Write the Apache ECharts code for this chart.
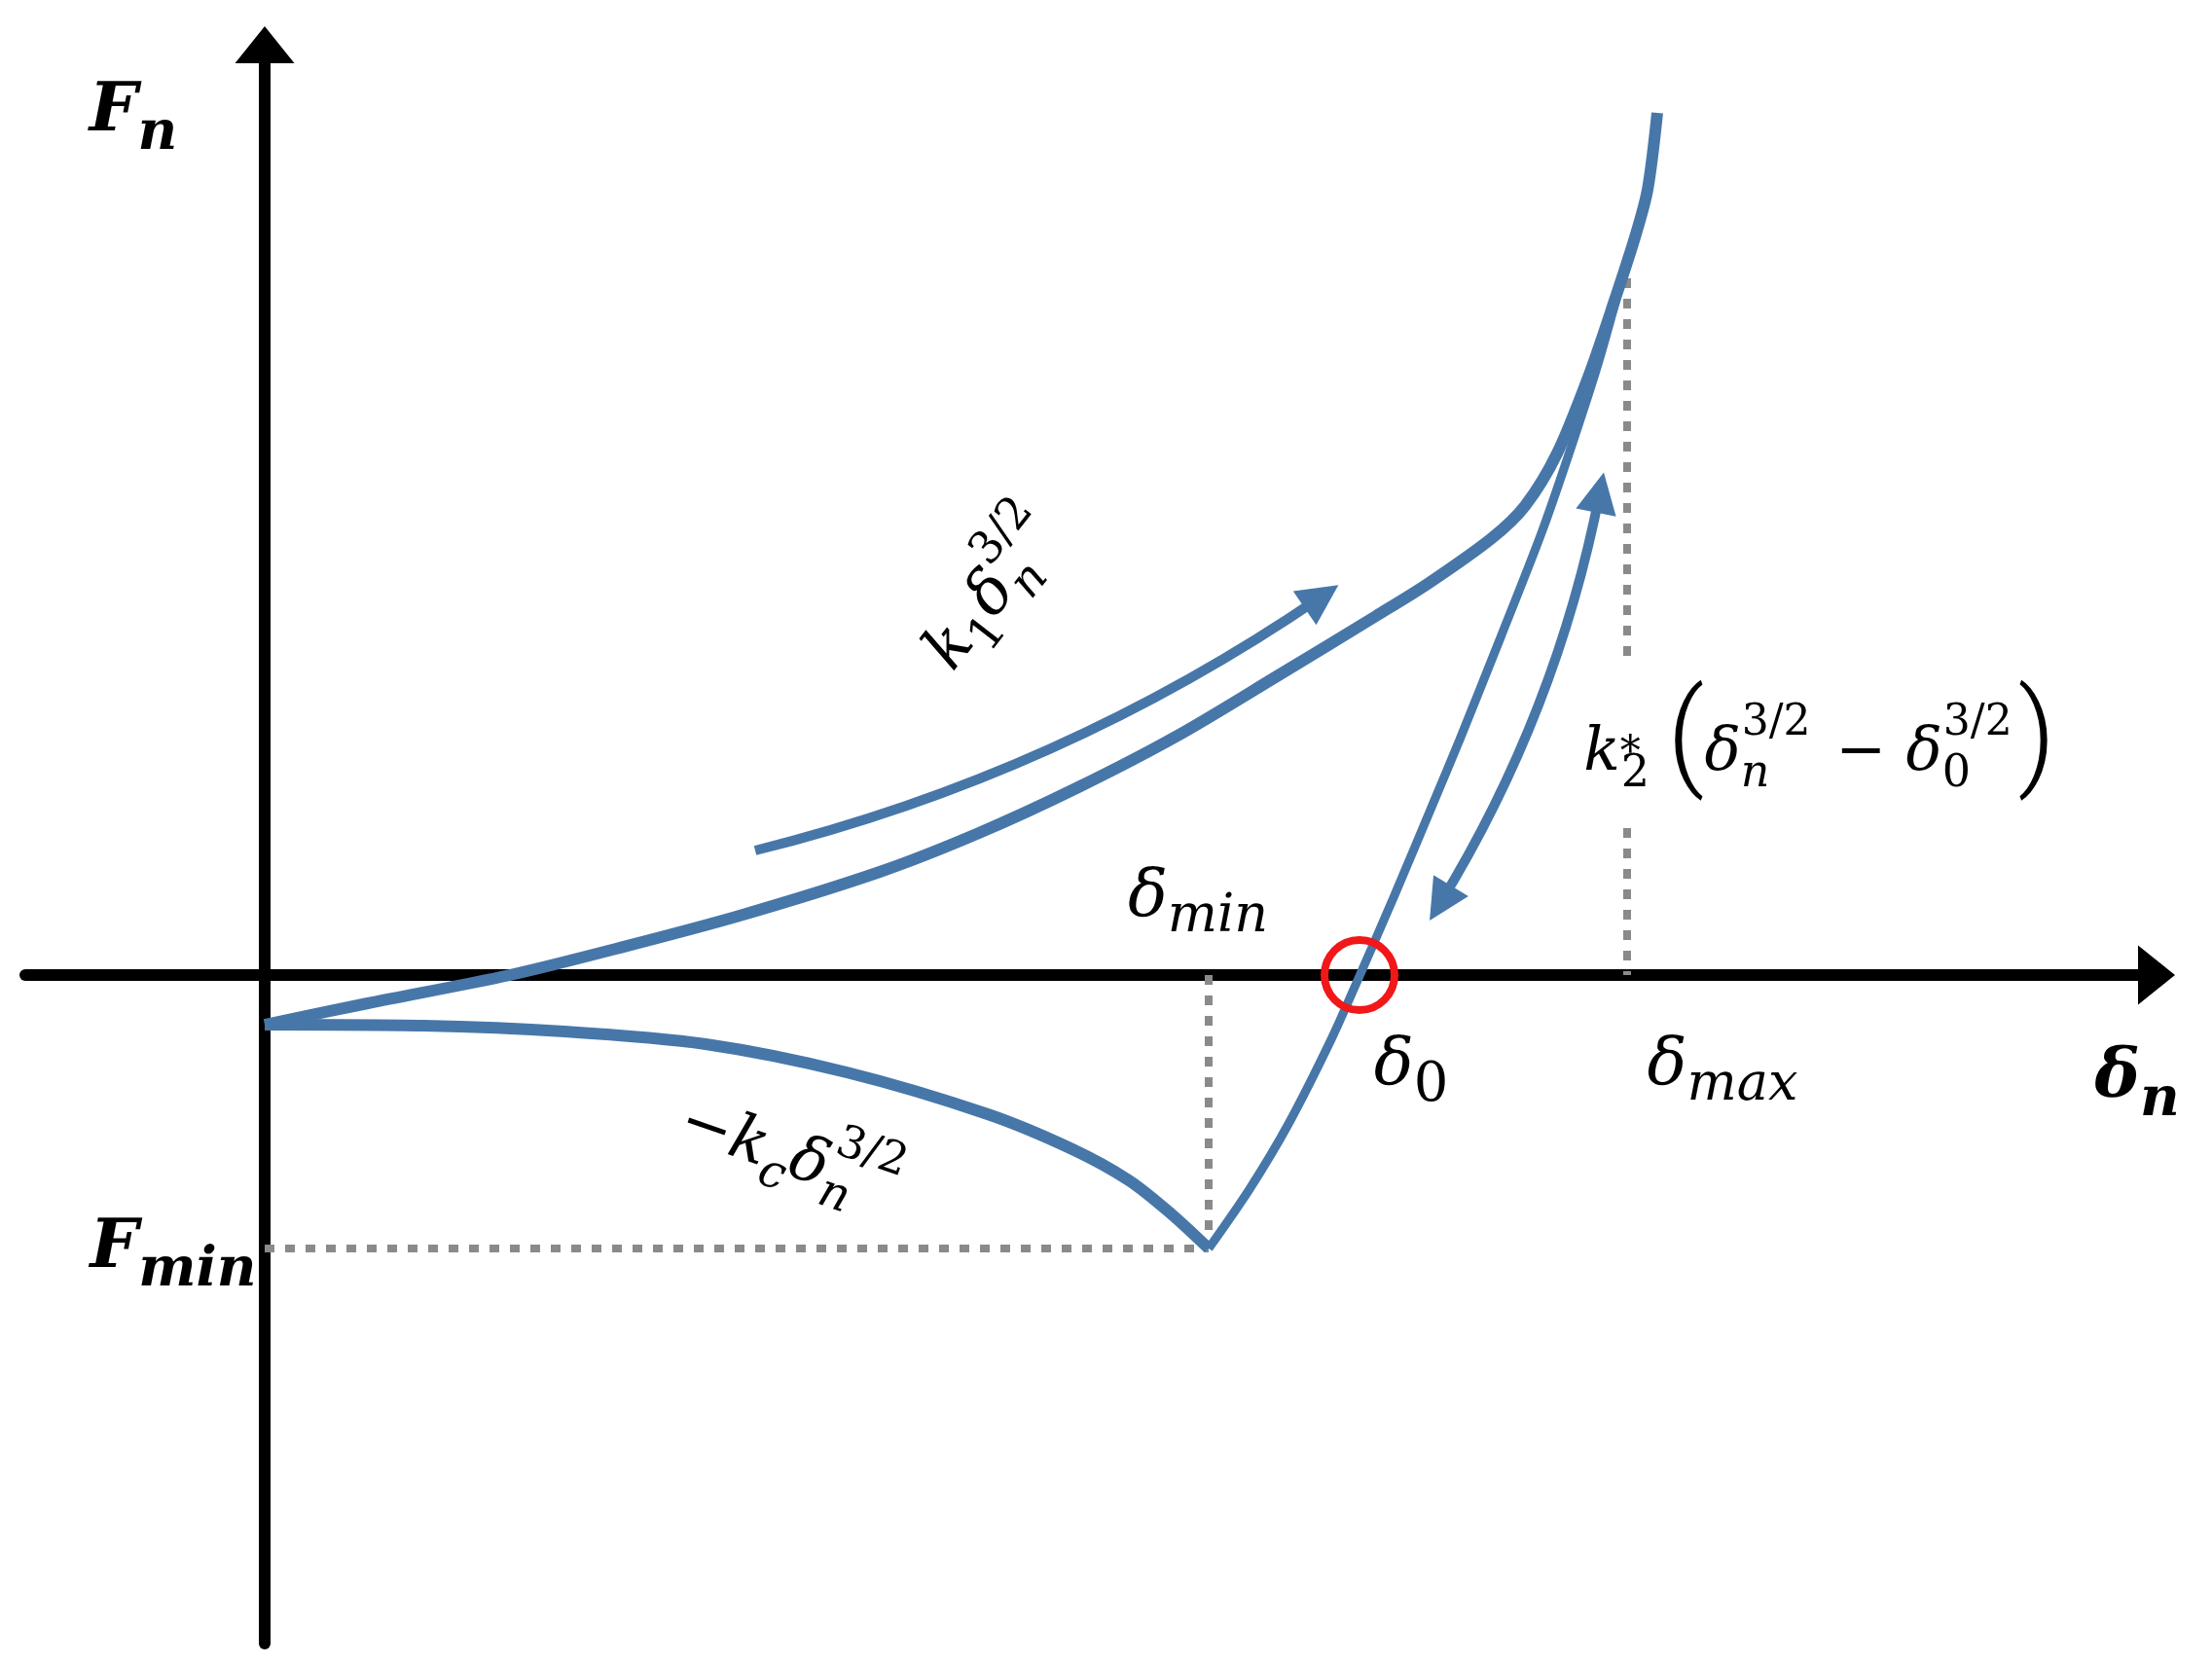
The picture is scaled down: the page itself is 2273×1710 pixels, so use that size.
<!DOCTYPE html>
<html>
<head>
<meta charset="utf-8">
<title>Fn - δn</title>
<script src="https://cdn.jsdelivr.net/npm/echarts@6/dist/echarts.min.js"></script>
<style>
  html, body { margin: 0; padding: 0; background: #fff; }
  #chart { width: 2273px; height: 1710px; }
</style>
</head>
<body>
<div id="chart"></div>
<script>
// axis extent
var xRange = [-2.46, 19.44];
var yRange = [-6.87, 9.56];

// loading branch  k1 δn^3/2
var loadingCurve = [[0, -0.51], [1.06, -0.29], [2.52, 0], [3.61, 0.27], [4.88, 0.61], [6.32, 1.06],
  [7.34, 1.46], [8.36, 1.93], [9.38, 2.46], [10.40, 3.07], [11.42, 3.69], [11.95, 4.02],
  [12.61, 4.49], [12.95, 4.82], [13.28, 5.36], [13.61, 6.17], [13.88, 6.96], [14.08, 7.58],
  [14.21, 8.07], [14.31, 8.86]];
// unloading branch  k2*(δn^3/2 - δ0^3/2)
var unloadingCurve = [[9.70, -2.81], [10.12, -2.20], [10.52, -1.53], [10.96, -0.66], [11.25, -0.01],
  [11.61, 0.82], [12.03, 1.82], [12.28, 2.42], [12.70, 3.47], [13.13, 4.57], [13.44, 5.47],
  [13.71, 6.31], [14.01, 7.40]];
// cohesion branch  -kc δn^3/2
var cohesionCurve = [[0, -0.51], [1.63, -0.52], [3.08, -0.58], [4.53, -0.71], [5.98, -1.00],
  [7.43, -1.43], [8.30, -1.79], [8.88, -2.11], [9.31, -2.45], [9.70, -2.81]];

// characteristic points
var deltaMin = 9.70, deltaZero = 11.25, deltaMax = 14.00;
var forceMin = -2.81, forceTop = 7.37;
var gapTop = 3.23, gapBottom = 1.51;   // dotted line broken for the k2 label

// direction arrows (start, end)
var loadArrow = [[5.04, 1.28], [10.86, 3.89]];
var cycleArrow = [[12.08, 0.74], [13.72, 4.96]];

var BLUE = '#4777a9';
var GREY = '#8a8a8a';
var SERIF = 'DejaVu Serif';

// rich text styles (every token left-aligned so width:1 tokens stack)
function tok(size, extra) {
  var s = { fontFamily: SERIF, fontSize: size, color: '#000', align: 'left' };
  for (var k in extra) s[k] = extra[k];
  return s;
}
var richDelta = {
  d: tok(68, { fontStyle: 'italic', lineHeight: 104 }),
  s: tok(54, { fontStyle: 'italic', height: 64, verticalAlign: 'bottom' }),
  z: tok(56, { height: 64, verticalAlign: 'bottom' })
};
var richBold = {
  f: tok(70, { fontStyle: 'italic', fontWeight: 'bold', lineHeight: 100 }),
  s: tok(56, { fontStyle: 'italic', fontWeight: 'bold', height: 56, verticalAlign: 'bottom' })
};
var richK = {
  m: tok(64, { fontStyle: 'italic', lineHeight: 124 }),
  o: tok(64, { lineHeight: 124 }),
  s: tok(48, { fontStyle: 'italic', height: 80, verticalAlign: 'bottom' }),
  t: tok(48, { height: 80, verticalAlign: 'bottom' }),
  n: tok(48, { fontStyle: 'italic', height: 80, verticalAlign: 'bottom', width: 1 }),
  p: tok(46, { height: 60, verticalAlign: 'top' })
};
var richK2 = {
  m: tok(62, { fontStyle: 'italic', lineHeight: 136 }),
  a: tok(42, { width: 1 }),
  t: tok(46, { height: 94, verticalAlign: 'bottom', padding: [0, 18, 0, 0] }),
  q: tok(120, { fontFamily: 'Roboto', fontWeight: 300, height: 116, verticalAlign: 'top' }),
  n: tok(46, { fontStyle: 'italic', height: 94, verticalAlign: 'bottom', width: 1 }),
  z: tok(46, { height: 94, verticalAlign: 'bottom', width: 1 }),
  p: tok(44, { height: 74, verticalAlign: 'top', padding: [0, 6, 0, 0] }),
  o: tok(62, { lineHeight: 136, padding: [0, 20, 0, 20] })
};

var annotations = [
  { pos: [-1.35, 8.86], text: '{f|F}{s|n}', rich: richBold },
  { pos: [-0.94, -2.82], text: '{f|F}{s|min}', rich: richBold },
  { pos: [19.24, -1.07], text: '{f|δ}{s|n}', rich: richBold },
  { pos: [14.98, -0.94], text: '{d|δ}{s|max}', rich: richDelta },
  { pos: [11.78, -0.94], text: '{d|δ}{z|0}', rich: richDelta },
  { pos: [9.59, 0.79], text: '{d|δ}{s|min}', rich: richDelta },
  { pos: [15.98, 2.27], text: '{m|k}{a|*}{t|2}{q|(}{m|δ}{n|n}{p|3/2}{o|−}{m|δ}{z|0}{p|3/2}{q|)}', rich: richK2 },
  { pos: [7.50, 3.93], text: '{m|k}{t|1}{m|δ}{n|n}{p|3/2}', rich: richK, rotate: 52 },
  { pos: [5.38, -1.88], text: '{o|−}{m|k}{s|c}{m|δ}{n|n}{p|3/2}', rich: richK, rotate: -19 }
];

function curve(points, width) {
  return {
    type: 'line', data: points, smooth: 0.3, showSymbol: false, silent: true, z: 4,
    lineStyle: { color: BLUE, width: width }
  };
}
function dotted(points) {
  return {
    type: 'line', data: points, showSymbol: false, silent: true, z: 3,
    lineStyle: { color: GREY, width: 8, type: [10, 11], cap: 'butt' }
  };
}
function arrow(coords, curveness, symbols) {
  return {
    type: 'lines', coordinateSystem: 'cartesian2d', silent: true, z: 4,
    symbol: symbols, symbolSize: 42,
    lineStyle: { color: BLUE, width: 10, opacity: 1, curveness: curveness },
    data: [{ coords: coords }]
  };
}

var chart = echarts.init(document.getElementById('chart'));

var option = {
  animation: false,
  backgroundColor: '#fff',
  grid: { left: 26, right: 57, top: 46, bottom: 21, outerBoundsMode: 'none' },
  xAxis: {
    type: 'value', min: xRange[0], max: xRange[1],
    axisLine: { onZero: true, symbol: ['none', 'triangle'], symbolSize: [61, 38],
      lineStyle: { color: '#000', width: 12 } },
    axisTick: { show: false }, axisLabel: { show: false }, splitLine: { show: false }
  },
  yAxis: {
    type: 'value', min: yRange[0], max: yRange[1],
    axisLine: { onZero: true, symbol: ['none', 'triangle'], symbolSize: [61, 38],
      lineStyle: { color: '#000', width: 12 } },
    axisTick: { show: false }, axisLabel: { show: false }, splitLine: { show: false }
  },
  series: [
    dotted([[deltaMin, 0], [deltaMin, forceMin]]),
    dotted([[0, forceMin], [deltaMin, forceMin]]),
    dotted([[deltaMax, forceTop], [deltaMax, gapTop]]),
    dotted([[deltaMax, gapBottom], [deltaMax, 0]]),
    curve(cohesionCurve, 12),
    curve(loadingCurve, 12),
    curve(unloadingCurve, 9),
    arrow(loadArrow, -0.09, ['none', 'triangle']),
    arrow(cycleArrow, -0.09, ['triangle', 'triangle']),
    {
      // δ0 marker
      type: 'scatter', data: [[deltaZero, 0]], symbol: 'circle', symbolSize: 72,
      silent: true, z: 7,
      itemStyle: { color: 'rgba(0,0,0,0)', borderColor: '#f01818', borderWidth: 8, opacity: 1 }
    },
    {
      type: 'scatter', silent: true, symbolSize: 1, z: 8,
      itemStyle: { color: 'rgba(0,0,0,0)', opacity: 1 },
      data: annotations.map(function (a) {
        return {
          value: a.pos,
          label: {
            show: true, position: 'inside', color: '#000', opacity: 1, textBorderWidth: 0,
            formatter: a.text, rich: a.rich, rotate: a.rotate || 0
          }
        };
      })
    }
  ]
};

chart.setOption(option);

window.onresize = function () {
  chart.resize();
};
</script>
</body>
</html>
